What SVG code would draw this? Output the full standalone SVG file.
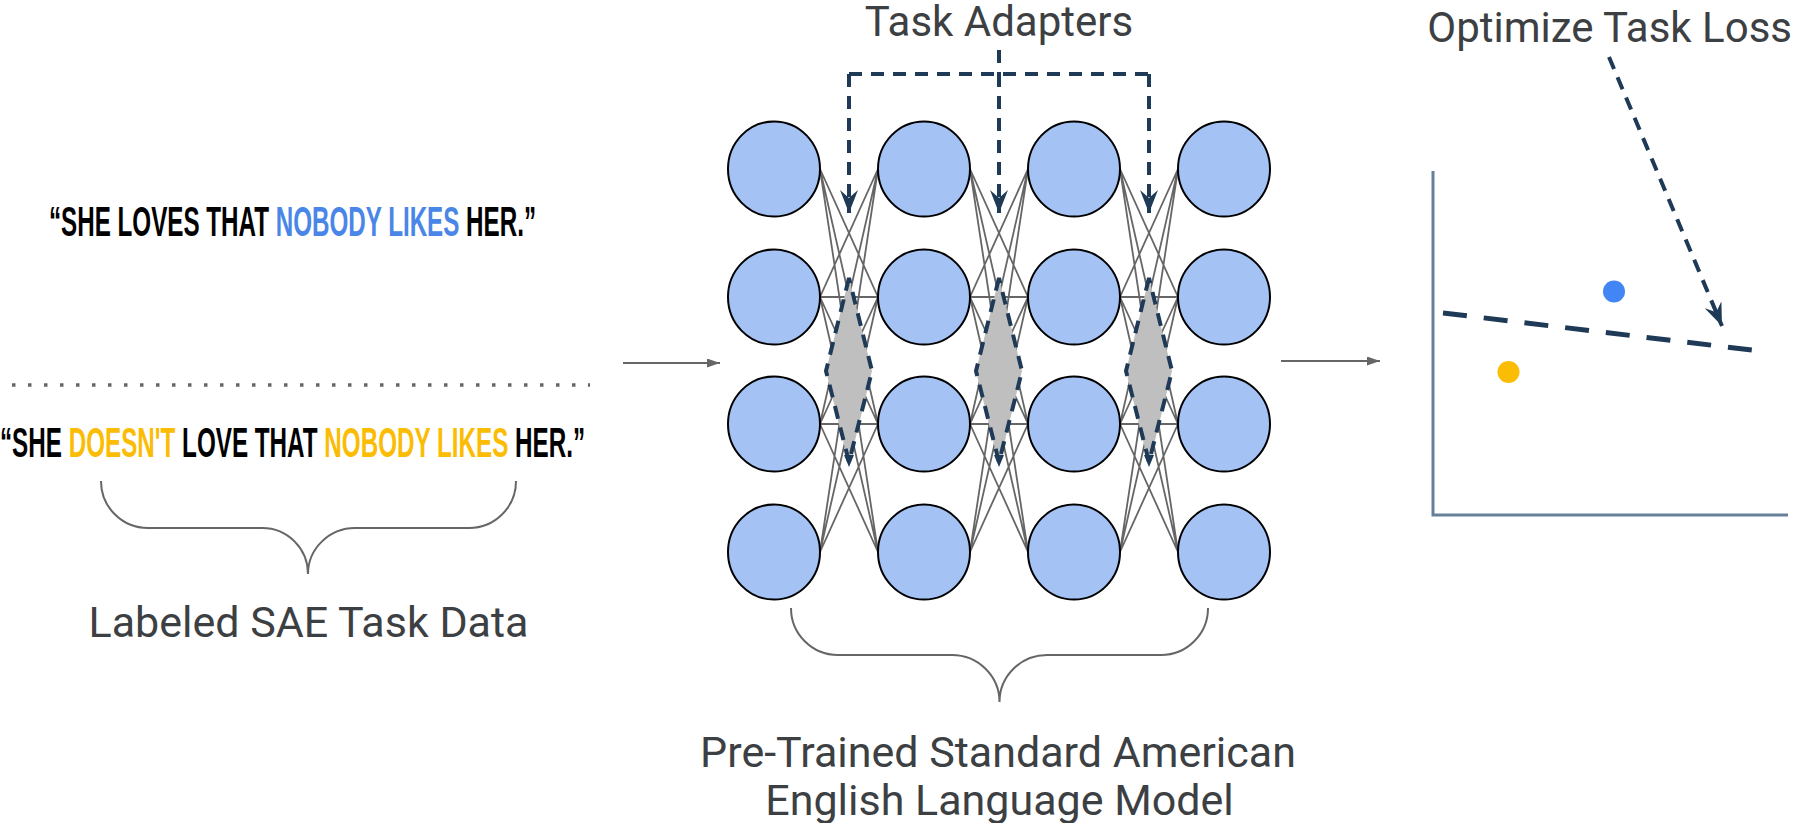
<svg xmlns="http://www.w3.org/2000/svg" xmlns:xlink="http://www.w3.org/1999/xlink" width="1795" height="823" viewBox="0 0 1795 823">
<style>
.lbl{font-family:Roboto,"Noto Sans","Liberation Sans",sans-serif;font-size:42px;fill:#3c4043}
.big{font-size:43px}
.sent{font-family:"Liberation Sans","DejaVu Sans",sans-serif;font-weight:700;font-size:42px;fill:#000}
.blue{fill:#4a86e8}
.yel{fill:#fbbc04}
.node{fill:#a4c2f4;stroke:#000;stroke-width:2}
.wire{fill:none;stroke:#666;stroke-width:1.8}
.navy{fill:none;stroke:#1e3a56;stroke-width:4;stroke-dasharray:13 9}
.brace{fill:none;stroke:#666;stroke-width:2}
.gray{fill:none;stroke:#666;stroke-width:2}
</style>
<defs>
<marker id="stealth" markerUnits="userSpaceOnUse" viewBox="0 0 23 18" refX="23" refY="9" markerWidth="23" markerHeight="18" orient="auto">
<path d="M0,0 L23,9 L0,18 L8,9 Z" fill="#1e3a56"/>
</marker>
<marker id="tri" markerUnits="userSpaceOnUse" viewBox="0 0 13 9" refX="13" refY="4.5" markerWidth="13" markerHeight="9" orient="auto">
<path d="M0,0 L13,4.5 L0,9 Z" fill="#666"/>
</marker>
<path id="gapwires" d="M820,169 L878,297 M820,169 L878,424 M820,169 L878,552 M820,297 L878,169 M820,297 L878,297 M820,297 L878,424 M820,297 L878,552 M820,424 L878,169 M820,424 L878,297 M820,424 L878,424 M820,424 L878,552 M820,552 L878,169 M820,552 L878,297 M820,552 L878,424"/>
<g id="adapter">
<polygon points="849,278 826,371 849,465 872,371" fill="#bfbfbf"/>
<path d="M849,278 L826,371 L849,462 L872,371 Z" fill="none" stroke="#1e3a56" stroke-width="4" stroke-dasharray="13 9"/>
<path d="M844,455 L849,467 L854,455 Z" fill="#1e3a56"/>
</g>
</defs>
<rect width="1795" height="823" fill="#fff"/>

<g id="connectors">
<g class="wire">
<use xlink:href="#gapwires"/>
<use xlink:href="#gapwires" x="150"/>
<use xlink:href="#gapwires" x="300"/>
</g>
<path class="gray" d="M623,363 H720" marker-end="url(#tri)"/>
<path class="gray" d="M1281,361 H1380" marker-end="url(#tri)"/>
<path class="navy" d="M999,50 V74 M849,74 H1149"/>
<path class="navy" d="M849,74 V213" marker-end="url(#stealth)"/>
<path class="navy" d="M999,74 V213" marker-end="url(#stealth)"/>
<path class="navy" d="M1149,74 V213" marker-end="url(#stealth)"/>
<path class="navy" d="M1609,57 L1722,326" marker-end="url(#stealth)"/>
</g>

<g id="adapters">
<use xlink:href="#adapter"/>
<use xlink:href="#adapter" x="150"/>
<use xlink:href="#adapter" x="300"/>
</g>

<g id="network">
<ellipse class="node" cx="774" cy="169" rx="46" ry="47.5"/>
<ellipse class="node" cx="924" cy="169" rx="46" ry="47.5"/>
<ellipse class="node" cx="1074" cy="169" rx="46" ry="47.5"/>
<ellipse class="node" cx="1224" cy="169" rx="46" ry="47.5"/>
<ellipse class="node" cx="774" cy="297" rx="46" ry="47.5"/>
<ellipse class="node" cx="924" cy="297" rx="46" ry="47.5"/>
<ellipse class="node" cx="1074" cy="297" rx="46" ry="47.5"/>
<ellipse class="node" cx="1224" cy="297" rx="46" ry="47.5"/>
<ellipse class="node" cx="774" cy="424" rx="46" ry="47.5"/>
<ellipse class="node" cx="924" cy="424" rx="46" ry="47.5"/>
<ellipse class="node" cx="1074" cy="424" rx="46" ry="47.5"/>
<ellipse class="node" cx="1224" cy="424" rx="46" ry="47.5"/>
<ellipse class="node" cx="774" cy="552" rx="46" ry="47.5"/>
<ellipse class="node" cx="924" cy="552" rx="46" ry="47.5"/>
<ellipse class="node" cx="1074" cy="552" rx="46" ry="47.5"/>
<ellipse class="node" cx="1224" cy="552" rx="46" ry="47.5"/>
</g>

<g id="task-adapters-label">
<text class="lbl" x="999" y="36" text-anchor="middle">Task Adapters</text>
</g>

<g id="model-label">
<path class="brace" d="M791,608 C791,634 812,655 838,655 H952 C978,655 999.5,676 999.5,702 C999.5,676 1021,655 1047,655 H1161 C1187,655 1208,634 1208,608"/>
<text class="lbl big" x="998" y="767" text-anchor="middle">Pre-Trained Standard American</text>
<text class="lbl big" x="999.5" y="815" text-anchor="middle">English Language Model</text>
</g>

<g id="data">
<text class="sent" transform="scale(0.574,1)" x="85.37" y="236" textLength="848.4" lengthAdjust="spacingAndGlyphs">“SHE LOVES THAT <tspan class="blue">NOBODY LIKES</tspan> HER.”</text>
<path d="M12,385 H590" fill="none" stroke="#666" stroke-width="3.5" stroke-dasharray="3.5 12.5"/>
<text class="sent" transform="scale(0.574,1)" x="0" y="457" textLength="1019.2" lengthAdjust="spacingAndGlyphs">“SHE <tspan class="yel">DOESN'T</tspan> LOVE THAT <tspan class="yel">NOBODY LIKES</tspan> HER.”</text>
<path class="brace" d="M101,481 C101,507 122,528 148,528 H262 C288,528 308,549 308,574 C308,549 329,528 355,528 H469 C495,528 516,507 516,481"/>
<text class="lbl big" x="308.5" y="637" text-anchor="middle">Labeled SAE Task Data</text>
</g>

<g id="chart">
<path d="M1433,171 V515 H1788" fill="none" stroke="#668099" stroke-width="3"/>
<path d="M1443,313 L1760,351" fill="none" stroke="#1e3a56" stroke-width="5" stroke-dasharray="24 17"/>
<circle cx="1614" cy="291.5" r="11" fill="#4285f4"/>
<circle cx="1508.5" cy="372" r="11" fill="#fbbc04"/>
<text class="lbl" x="1792" y="42" text-anchor="end">Optimize Task Loss</text>
</g>
</svg>
